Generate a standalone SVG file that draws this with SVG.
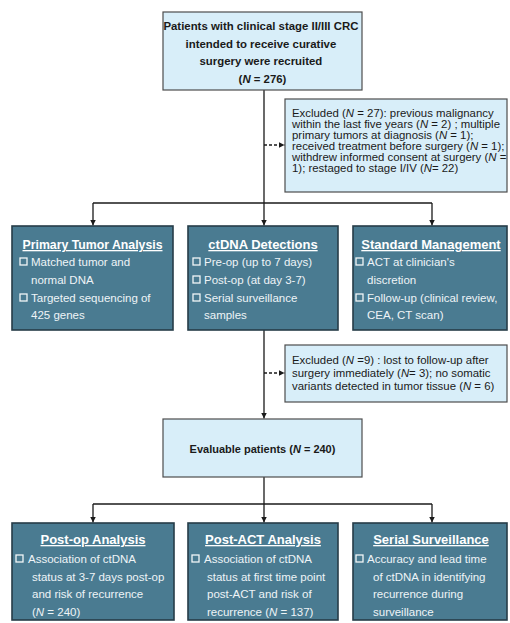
<svg xmlns="http://www.w3.org/2000/svg" width="510" height="623" viewBox="0 0 510 623">
<style>
.light{fill:#d8eef9;stroke:#4d4d4d;stroke-width:1.2}
.dark{fill:#4a7b91;stroke:#263c48;stroke-width:1.6}
.t{font-family:"Liberation Sans",Arial,sans-serif;font-size:11.4px;fill:#1a1a1a}
.b{font-weight:bold;font-size:11.4px}
.h{font-family:"Liberation Sans",Arial,sans-serif;font-size:13px;font-weight:bold;fill:#ffffff;text-decoration:underline}
.w{font-family:"Liberation Sans",Arial,sans-serif;font-size:11.5px;fill:#eef4f7}
.bul{fill:none;stroke:#f2f6f8;stroke-width:1.3}
.ln{fill:none;stroke:#1a1a1a;stroke-width:1.3}
.dash{fill:none;stroke:#1a1a1a;stroke-width:1.3;stroke-dasharray:3 2}
</style>
<defs>
<marker id="ah" viewBox="0 0 10 10" refX="10" refY="5" markerWidth="6" markerHeight="6" orient="auto" markerUnits="userSpaceOnUse">
<path d="M0,0 L10,5 L0,10 z" fill="#1a1a1a"/>
</marker>
<rect id="sq" width="7" height="7" class="bul"/>
</defs>
<rect width="510" height="623" fill="#ffffff"/>

<g id="connectors">
<line class="ln" x1="264" y1="90" x2="264" y2="203"/>
<line class="ln" x1="93" y1="203" x2="432" y2="203"/>
<line class="ln" x1="93" y1="203" x2="93" y2="225.5" marker-end="url(#ah)"/>
<line class="ln" x1="432" y1="203" x2="432" y2="225.5" marker-end="url(#ah)"/>
<line class="ln" x1="264" y1="203" x2="264" y2="225.5" marker-end="url(#ah)"/>
<line class="dash" x1="264" y1="145" x2="284.5" y2="145" marker-end="url(#ah)"/>
<line class="ln" x1="264" y1="330" x2="264" y2="418.5" marker-end="url(#ah)"/>
<line class="dash" x1="264" y1="373" x2="284.5" y2="373" marker-end="url(#ah)"/>
<line class="ln" x1="264" y1="477" x2="264" y2="522.5" marker-end="url(#ah)"/>
<line class="ln" x1="93" y1="504" x2="432" y2="504"/>
<line class="ln" x1="93" y1="504" x2="93" y2="522.5" marker-end="url(#ah)"/>
<line class="ln" x1="432" y1="504" x2="432" y2="522.5" marker-end="url(#ah)"/>
</g>

<g id="recruited">
<rect class="light" x="163" y="12" width="199" height="78"/>
<text class="t b" text-anchor="middle">
<tspan x="262.5" y="30">Patients with clinical stage II/III CRC</tspan>
<tspan x="262.5" y="47.5">intended to receive curative</tspan>
<tspan x="262.5" y="65">surgery were recruited</tspan>
<tspan x="262.5" y="82.5">(<tspan font-style="italic">N</tspan> = 276)</tspan>
</text>
</g>

<g id="excluded1">
<rect class="light" x="285" y="99" width="222" height="93"/>
<text class="t">
<tspan x="292" y="116.5">Excluded (<tspan font-style="italic">N</tspan> = 27): previous malignancy</tspan>
<tspan x="292" y="127.5">within the last five years (<tspan font-style="italic">N</tspan> = 2) ; multiple</tspan>
<tspan x="292" y="138.5">primary tumors at diagnosis (<tspan font-style="italic">N</tspan> = 1);</tspan>
<tspan x="292" y="149.5">received treatment before surgery (<tspan font-style="italic">N</tspan> = 1);</tspan>
<tspan x="292" y="160.5">withdrew informed consent at surgery (<tspan font-style="italic">N</tspan> =</tspan>
<tspan x="292" y="171.5">1); restaged to stage I/IV (<tspan font-style="italic">N</tspan>= 22)</tspan>
</text>
</g>

<g id="primary-tumor">
<rect class="dark" x="12" y="226" width="161" height="104"/>
<text class="h" x="92.5" y="249" text-anchor="middle" textLength="140" lengthAdjust="spacingAndGlyphs">Primary Tumor Analysis</text>
<use href="#sq" x="20" y="258"/>
<use href="#sq" x="20" y="294"/>
<text class="w">
<tspan x="31" y="266">Matched tumor and</tspan>
<tspan x="31" y="284">normal DNA</tspan>
<tspan x="31" y="302">Targeted sequencing of</tspan>
<tspan x="31" y="319">425 genes</tspan>
</text>
</g>

<g id="ctdna">
<rect class="dark" x="188" y="226" width="150" height="104"/>
<text class="h" x="263" y="249" text-anchor="middle">ctDNA Detections</text>
<use href="#sq" x="193" y="258"/>
<use href="#sq" x="193" y="276"/>
<use href="#sq" x="193" y="294"/>
<text class="w">
<tspan x="204" y="266">Pre-op (up to 7 days)</tspan>
<tspan x="204" y="284">Post-op (at day 3-7)</tspan>
<tspan x="204" y="302">Serial surveillance</tspan>
<tspan x="204" y="319">samples</tspan>
</text>
</g>

<g id="standard">
<rect class="dark" x="353" y="226" width="154" height="104"/>
<text class="h" x="431" y="249" text-anchor="middle">Standard Management</text>
<use href="#sq" x="356" y="258"/>
<use href="#sq" x="356" y="294"/>
<text class="w">
<tspan x="367" y="266">ACT at clinician's</tspan>
<tspan x="367" y="284">discretion</tspan>
<tspan x="367" y="302">Follow-up (clinical review,</tspan>
<tspan x="367" y="319">CEA, CT scan)</tspan>
</text>
</g>

<g id="excluded2">
<rect class="light" x="285" y="345" width="222" height="57"/>
<text class="t">
<tspan x="292" y="364">Excluded (<tspan font-style="italic">N</tspan> =9) : lost to follow-up after</tspan>
<tspan x="292" y="377">surgery immediately (<tspan font-style="italic">N</tspan>= 3); no somatic</tspan>
<tspan x="292" y="389.5">variants detected in tumor tissue (<tspan font-style="italic">N</tspan> = 6)</tspan>
</text>
</g>

<g id="evaluable">
<rect class="light" x="163" y="419" width="199" height="58"/>
<text class="t b" x="262.5" y="453" text-anchor="middle" style="font-size:11px">Evaluable patients (<tspan font-style="italic">N</tspan> = 240)</text>
</g>

<g id="postop">
<rect class="dark" x="12" y="523" width="162" height="97"/>
<text class="h" x="93" y="544" text-anchor="middle">Post-op Analysis</text>
<use href="#sq" x="16" y="555"/>
<text class="w">
<tspan x="28" y="563">Association of ctDNA</tspan>
<tspan x="32" y="581">status at 3-7 days post-op</tspan>
<tspan x="32" y="598">and risk of recurrence</tspan>
<tspan x="32" y="616">(<tspan font-style="italic">N</tspan> = 240)</tspan>
</text>
</g>

<g id="postact">
<rect class="dark" x="188" y="523" width="150" height="97"/>
<text class="h" x="263" y="544" text-anchor="middle">Post-ACT Analysis</text>
<use href="#sq" x="192" y="555"/>
<text class="w">
<tspan x="204" y="563">Association of ctDNA</tspan>
<tspan x="207" y="581">status at first time point</tspan>
<tspan x="207" y="598">post-ACT and risk of</tspan>
<tspan x="207" y="616">recurrence (<tspan font-style="italic">N</tspan> = 137)</tspan>
</text>
</g>

<g id="serial">
<rect class="dark" x="353" y="523" width="154" height="97"/>
<text class="h" x="431" y="544" text-anchor="middle">Serial Surveillance</text>
<use href="#sq" x="356" y="555"/>
<text class="w">
<tspan x="367" y="563">Accuracy and lead time</tspan>
<tspan x="373" y="581">of ctDNA in identifying</tspan>
<tspan x="373" y="598">recurrence during</tspan>
<tspan x="373" y="616">surveillance</tspan>
</text>
</g>
</svg>
